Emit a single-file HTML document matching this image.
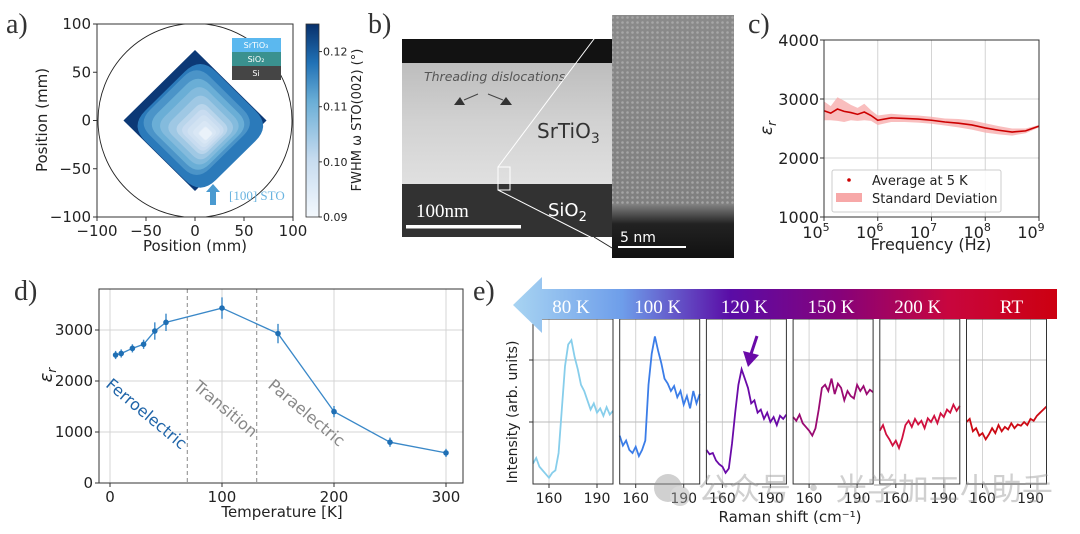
<!DOCTYPE html>
<html><head><meta charset="utf-8"><style>
html,body{margin:0;padding:0;background:#fff;}
svg{display:block;font-family:"DejaVu Sans","Liberation Sans",sans-serif;}
.lbl{font-family:"Liberation Serif",serif;font-size:28px;fill:#333;}
</style></head><body>
<svg id="fig" width="1080" height="534" viewBox="0 0 1080 534" xmlns="http://www.w3.org/2000/svg">
<defs>
<linearGradient id="cbar" x1="0" y1="1" x2="0" y2="0">
<stop offset="0" stop-color="#f3f8fd"/><stop offset="0.3" stop-color="#c6dbef"/><stop offset="0.6" stop-color="#6aaed6"/><stop offset="0.8" stop-color="#2171b5"/><stop offset="1" stop-color="#08306b"/></linearGradient>
<linearGradient id="band" x1="0" y1="0" x2="1" y2="0">
<stop offset="0" stop-color="#a8d4f2"/><stop offset="0.2" stop-color="#6e9eea"/><stop offset="0.4" stop-color="#5a0ca6"/><stop offset="0.6" stop-color="#86027a"/><stop offset="0.8" stop-color="#c8063e"/><stop offset="1" stop-color="#cc0010"/></linearGradient>
<linearGradient id="sto" x1="0" y1="0" x2="0" y2="1"><stop offset="0" stop-color="#bdbdbd"/><stop offset="0.5" stop-color="#d2d2d2"/><stop offset="1" stop-color="#e0e0e0"/></linearGradient>
<linearGradient id="hr" x1="0" y1="0" x2="0" y2="1"><stop offset="0" stop-color="#8a8a8a"/><stop offset="0.78" stop-color="#808080"/><stop offset="0.86" stop-color="#222"/><stop offset="1" stop-color="#111"/></linearGradient>
<pattern id="dots" width="5" height="5" patternUnits="userSpaceOnUse"><circle cx="2.5" cy="2.5" r="1.3" fill="#b4b4b4"/></pattern>
<clipPath id="clipA"><rect x="97" y="24" width="196" height="193"/></clipPath>
</defs>

<text class="lbl" x="6" y="33">a)</text>
<text class="lbl" x="368" y="33">b)</text>
<text class="lbl" x="748" y="33">c)</text>
<text class="lbl" x="14" y="300">d)</text>
<text class="lbl" x="473" y="300">e)</text>

<g id="pa">
<g id="contours" clip-path="url(#clipA)"></g>
<circle cx="195" cy="120.5" r="97" fill="none" stroke="#222" stroke-width="0.9" clip-path="url(#clipA)"/>
<rect x="97" y="24" width="196" height="193" fill="none" stroke="#333" stroke-width="1"/>
<g font-size="8" fill="#fff" text-anchor="middle">
<rect x="232" y="38" width="49" height="14" fill="#5bb8ef"/><text x="256" y="48">SrTiO₃</text>
<rect x="232" y="52" width="49" height="14" fill="#3a918f"/><text x="256" y="62">SiO₂</text>
<rect x="232" y="66" width="49" height="14" fill="#454545"/><text x="256" y="76">Si</text>
</g>
<g>
<polygon points="213,184 220,192 216,192 216,205 210,205 210,192 206,192" fill="#4a9ad0"/>
<text x="229" y="200" font-family="Liberation Serif,serif" font-size="13" fill="#6ab4e0">[100] STO</text>
</g>
<g id="aticks" font-size="15" fill="#222"></g>
<text x="195" y="251" font-size="15" text-anchor="middle" fill="#222">Position (mm)</text>
<text transform="translate(47,120) rotate(-90)" font-size="15" text-anchor="middle" fill="#222">Position (mm)</text>
<rect x="306" y="24" width="13" height="193" fill="url(#cbar)" stroke="#333" stroke-width="0.8"/>
<g id="cbticks" font-size="11" fill="#222"></g>
<text transform="translate(361,120) rotate(-90)" font-size="13" text-anchor="middle" fill="#222">FWHM ω STO(002) (°)</text>
</g>

<g>
<rect x="402" y="39" width="210" height="24" fill="#121212"/>
<rect x="402" y="63" width="210" height="121" fill="url(#sto)"/>
<rect x="402" y="184" width="210" height="53" fill="#323232"/>
<text x="424" y="81" font-size="12.5" font-style="italic" fill="#555">Threading dislocations</text>
<polygon points="454,105 465,105 460,97" fill="#333"/><polygon points="500,105 512,105 506,97" fill="#333"/>
<line x1="478" y1="94" x2="464" y2="100" stroke="#444"/><line x1="488" y1="94" x2="503" y2="100" stroke="#444"/>
<text x="537" y="138" font-size="20" fill="#333">SrTiO<tspan font-size="14" dy="5">3</tspan></text>
<text x="548" y="216" font-size="18" fill="#fff">SiO<tspan font-size="13" dy="5">2</tspan></text>
<text x="416" y="217" font-family="Liberation Serif,serif" font-size="19" fill="#fff">100nm</text>
<rect x="406" y="225" width="115" height="3.5" fill="#fff"/>
<rect x="498" y="167" width="12" height="23" fill="none" stroke="#fff" stroke-width="1"/>
<rect x="612" y="15" width="122" height="243" fill="url(#hr)"/>
<rect x="612" y="15" width="122" height="190" fill="url(#dots)" opacity="0.7"/>
<line x1="498" y1="167" x2="612" y2="15" stroke="#fff" stroke-width="1"/>
<line x1="498" y1="190" x2="612" y2="248" stroke="#fff" stroke-width="1"/>
<line x1="594" y1="237" x2="612" y2="248" stroke="#222" stroke-width="1"/>
<text x="620" y="242" font-size="14" fill="#fff">5 nm</text>
<rect x="618" y="246" width="68" height="2" fill="#fff"/>
</g>

<g id="pc"></g>
<g id="pd"></g>
<g id="pe"></g>

<g opacity="0.45">
<circle cx="668" cy="488" r="14" fill="#999"/><circle cx="680" cy="496" r="10" fill="#aaa"/>
<text x="698" y="500" font-family="Noto Sans CJK SC,sans-serif" font-size="31" fill="#999">公众号 · 光学加工小助手</text>
</g>
</svg>
<script>
// ---------- Panel C data ----------
const freqExp = [5,5.125,5.25,5.375,5.5,5.625,5.75,5.875,6,6.25,6.5,6.75,7,7.25,7.5,7.75,8,8.25,8.5,8.75,9];
const epsMean = [2800,2760,2830,2790,2770,2740,2780,2720,2640,2680,2670,2660,2640,2610,2590,2560,2510,2470,2440,2460,2540];
const epsStd  = [160,120,200,180,130,110,140,90,80,70,60,60,60,60,70,80,80,70,60,40,20];
const cYTicks = [1000,2000,3000,4000];
const cXTicks = [5,6,7,8,9];
// ---------- Panel D data ----------
const temps = [5,10,20,30,40,50,100,150,200,250,300];
const epsT  = [2510,2540,2640,2720,2980,3150,3430,2930,1400,800,590];
const epsErr= [80,80,80,90,170,170,210,190,110,90,80];
const dYTicks = [0,1000,2000,3000];
const dXTicks = [0,100,200,300];
const phaseBounds = [69,131];
// ---------- Panel E data ----------
const ramanLabels = ["80 K","100 K","120 K","150 K","200 K","RT"];
const ramanColors = ["#87ceeb","#3b7de8","#6a0aa8","#9a0a72","#d0103f","#cc0a14"];
const ramanShift = [150,152,154,156,158,160,162,164,166,168,170,172,174,176,178,180,182,184,186,188,190,192,194,196,198,200];
const s80  = [0.33,0.42,0.28,0.22,0.16,0.1,0.18,0.22,0.5,1.2,1.9,2.25,2.32,2.05,1.85,1.6,1.5,1.35,1.2,1.3,1.15,1.22,1.1,1.24,1.12,1.18];
const s100 = [0.78,0.62,0.7,0.55,0.5,0.6,0.45,0.55,0.7,1.6,2.1,2.38,2.15,1.95,1.7,1.62,1.5,1.58,1.4,1.5,1.28,1.42,1.22,1.5,1.3,1.45];
const s120 = [0.55,0.48,0.5,0.38,0.32,0.28,0.18,0.25,0.65,1.15,1.6,1.85,1.7,1.55,1.3,1.35,1.15,1.2,1.05,1.15,1.0,1.08,0.95,1.1,1.05,1.12];
const s150 = [1.08,1.02,1.12,0.98,0.92,0.86,0.78,0.9,1.2,1.55,1.6,1.5,1.7,1.45,1.62,1.55,1.35,1.5,1.42,1.38,1.6,1.5,1.58,1.45,1.52,1.48];
const s200 = [0.86,0.95,0.8,0.72,0.62,0.7,0.58,0.74,0.95,1.02,0.92,1.05,0.96,1.02,0.9,1.06,1.0,1.1,0.98,1.14,1.08,1.2,1.15,1.28,1.18,1.26];
const sRT  = [1.0,1.05,0.85,0.9,0.78,0.82,0.72,0.8,0.9,0.82,0.95,0.85,0.92,0.88,0.98,0.9,0.96,0.94,1.0,0.95,1.05,1.02,1.1,1.15,1.2,1.25];
const ramanSeries = [s80,s100,s120,s150,s200,sRT];
const eXTicks = [160,190];
// ---------- Panel A data ----------
const cbTicks = [0.09,0.10,0.11,0.12];
const aTicks = [-100,-50,0,50,100];
const contourLevels = [0.117,0.114,0.111,0.108,0.105,0.102,0.100,0.098,0.096,0.094,0.093,0.092];

const NS="http://www.w3.org/2000/svg";
function mk(tag,attrs,parent,txt){const e=document.createElementNS(NS,tag);for(const k in attrs)e.setAttribute(k,attrs[k]);if(txt!==undefined)e.textContent=txt;parent.appendChild(e);return e;}

// ===== Panel A =====
(function(){
  const ax=v=>195+v*0.98, ay=v=>120.5-v*0.965;
  const cbY=v=>217-(v-0.09)*5514;
  const g=document.getElementById('contours');
  const cmap=v=>{const t=Math.min(1,(v-0.09)/0.035);const c0=[243,248,253],c1=[198,219,239],c2=[106,174,214],c3=[33,113,181],c4=[8,48,107];
    const st=[[0,c0],[0.3,c1],[0.6,c2],[0.8,c3],[1,c4]];
    for(let i=1;i<st.length;i++){if(t<=st[i][0]){const f=(t-st[i-1][0])/(st[i][0]-st[i-1][0]);const a=st[i-1][1],b=st[i][1];return `rgb(${a.map((x,j)=>Math.round(x+(b[j]-x)*f)).join(',')})`;}}return 'rgb(8,48,107)';};
  // outer diamond with dark corners
  const outer=mk('path',{d:'M'+ax(0)+','+ay(73)+' L'+ax(73)+','+ay(0)+' L'+ax(0)+','+ay(-73)+' L'+ax(-73)+','+ay(0)+' Z',fill:cmap(0.124)},g);
  
  
  contourLevels.forEach((lv,i)=>{
    const f=(lv-0.091)/0.027;
    const s=Math.max(0.1,Math.min(1,f));
    const cx=12*(1-s)+ (i===0?5:0), cy=-15*(1-s)-(i===0?5:0);
    const r=(i===0?72:73*s*0.98);
    const pts=[[cx,cy+r],[cx+r,cy],[cx,cy-r],[cx-r,cy]];
    const P=pts.map(p=>[ax(p[0]),ay(p[1])]);
    const t=0.22;
    let d='';
    for(let k=0;k<4;k++){const a=P[(k+3)%4],b=P[k],c=P[(k+1)%4];
      const p1=[b[0]+(a[0]-b[0])*t,b[1]+(a[1]-b[1])*t],p2=[b[0]+(c[0]-b[0])*t,b[1]+(c[1]-b[1])*t];
      d+=(k===0?'M':'L')+p1[0]+','+p1[1]+' Q'+b[0]+','+b[1]+' '+p2[0]+','+p2[1]+' ';}
    d+='Z';
    const p=mk('path',{d:d,fill:cmap(lv)},g);
    
    
  });
  const at=document.getElementById('aticks');
  aTicks.forEach(v=>{
    mk('line',{x1:ax(v),x2:ax(v),y1:217,y2:221,stroke:'#333'},at);
    const t=mk('text',{x:ax(v),y:236,'text-anchor':'middle'},at,v<0?'−'+(-v):''+v);
    
    mk('line',{x1:93,x2:97,y1:ay(v),y2:ay(v),stroke:'#333'},at);
    const t2=mk('text',{x:91,y:ay(v)+5,'text-anchor':'end'},at,v<0?'−'+(-v):''+v);
    
  });
  const cb=document.getElementById('cbticks');
  cbTicks.forEach(v=>{
    mk('line',{x1:319,x2:322,y1:cbY(v),y2:cbY(v),stroke:'#333'},cb);
    const t=mk('text',{x:323,y:cbY(v)+4},cb,v.toFixed(2));
    
  });
})();

// ===== Panel C =====
(function(){
  const g=document.getElementById('pc');
  const L=824,R=1039,T=40,B=217;
  const x=v=>L+(v-5)/4*(R-L), y=v=>B-(v-1000)/3000*(B-T);
  cXTicks.forEach(v=>{mk('line',{x1:x(v),x2:x(v),y1:T,y2:B,stroke:'#d4d4d4'},g);
    mk('line',{x1:x(v),x2:x(v),y1:B,y2:B+4,stroke:'#333'},g);
    const t=mk('text',{x:x(v)-8,y:B+21,'font-size':16,'text-anchor':'middle',fill:'#222'},g,'10');
    mk('tspan',{'font-size':11,dy:-7},t,''+v);
    });
  cYTicks.forEach(v=>{mk('line',{x1:L,x2:R,y1:y(v),y2:y(v),stroke:'#d4d4d4'},g);
    mk('line',{x1:L-4,x2:L,y1:y(v),y2:y(v),stroke:'#333'},g);
    const t=mk('text',{x:L-5,y:y(v)+6,'font-size':16,'text-anchor':'end',fill:'#222'},g,''+v);
    });
  let up='',dn='',ln='';
  freqExp.forEach((f,i)=>{up+=(i?'L':'M')+x(f)+','+y(epsMean[i]+epsStd[i]);ln+=(i?'L':'M')+x(f)+','+y(epsMean[i]);});
  for(let i=freqExp.length-1;i>=0;i--)dn+='L'+x(freqExp[i])+','+y(epsMean[i]-epsStd[i]);
  const band=mk('path',{d:up+dn+'Z',fill:'#f7a8a8',opacity:0.75},g);
  
  const line=mk('path',{d:ln,fill:'none',stroke:'#cc0000','stroke-width':1.6},g);
  
  mk('rect',{x:L,y:T,width:R-L,height:B-T,fill:'none',stroke:'#333'},g);
  const t=mk('text',{transform:'translate(772,128) rotate(-90)','font-size':17,'text-anchor':'middle',fill:'#222','font-style':'italic'},g,'ε');
  mk('tspan',{'font-size':12,dy:4},t,'r');
  
  const xt=mk('text',{x:931,y:250,'font-size':16,'text-anchor':'middle',fill:'#222'},g,'Frequency (Hz)');
  
  const lg=mk('g',{},g);
  mk('rect',{x:832,y:170,width:169,height:42,fill:'#fff','fill-opacity':0.85,stroke:'#ccc',rx:2},lg);
  mk('circle',{cx:849,cy:180,r:1.8,fill:'#cc0000'},lg);
  mk('text',{x:872,y:185,'font-size':13,fill:'#222'},lg,'Average at 5 K');
  mk('rect',{x:836,y:193,width:26,height:9,fill:'#f7a8a8'},lg);
  mk('text',{x:872,y:203,'font-size':13,fill:'#222'},lg,'Standard Deviation');
})();

// ===== Panel D =====
(function(){
  const g=document.getElementById('pd');
  const L=99,R=463,T=289,B=483;
  const x=v=>110+v*(336/300), y=v=>B-v*0.051;
  dXTicks.forEach(v=>{mk('line',{x1:x(v),x2:x(v),y1:T,y2:B,stroke:'#d4d4d4'},g);
    mk('line',{x1:x(v),x2:x(v),y1:B,y2:B+4,stroke:'#333'},g);
    const t=mk('text',{x:x(v),y:B+19,'font-size':15,'text-anchor':'middle',fill:'#222'},g,''+v);
    });
  dYTicks.forEach(v=>{mk('line',{x1:L,x2:R,y1:y(v),y2:y(v),stroke:'#d4d4d4'},g);
    mk('line',{x1:L-4,x2:L,y1:y(v),y2:y(v),stroke:'#333'},g);
    const t=mk('text',{x:L-6,y:y(v)+5,'font-size':15,'text-anchor':'end',fill:'#222'},g,''+v);
    });
  phaseBounds.forEach(v=>{const l=mk('line',{x1:x(v),x2:x(v),y1:T,y2:B,stroke:'#888','stroke-dasharray':'4,3'},g);
    });
  let d='';temps.forEach((t,i)=>d+=(i?'L':'M')+x(t)+','+y(epsT[i]));
  const ln=mk('path',{d:d,fill:'none',stroke:'#3a88c8','stroke-width':1.3},g);
  
  temps.forEach((t,i)=>{
    const eb=mk('line',{x1:x(t),x2:x(t),y1:y(epsT[i]+epsErr[i]),y2:y(epsT[i]-epsErr[i]),stroke:'#3a88c8','stroke-width':1.4},g);
    
    const c=mk('circle',{cx:x(t),cy:y(epsT[i]),r:2.8,fill:'#1f6fb4'},g);
    
  });
  mk('rect',{x:L,y:T,width:R-L,height:B-T,fill:'none',stroke:'#333'},g);
  const ph=[['Ferroelectric',143,418,'#1f64a8'],['Transition',222,413,'#888'],['Paraelectric',303,417,'#888']];
  ph.forEach(p=>{const t=mk('text',{transform:`translate(${p[1]},${p[2]}) rotate(40)`,'font-size':16,'text-anchor':'middle',fill:p[3]},g,p[0]);
    });
  const yt=mk('text',{transform:'translate(52,375) rotate(-90)','font-size':18,'text-anchor':'middle',fill:'#222','font-style':'italic'},g,'ε');
  mk('tspan',{'font-size':12,dy:4},yt,'r');
  
  const xt=mk('text',{x:282,y:517,'font-size':15,'text-anchor':'middle',fill:'#222'},g,'Temperature [K]');
  
})();

// ===== Panel E =====
(function(){
  const g=document.getElementById('pe');
  const T=319,B=484,W=80,step=86.7,L0=533;
  const y=v=>B-v*62;
  ramanSeries.forEach((s,k)=>{
    const L=L0+k*step;
    const x=v=>L+(v-150)*1.6;
    const sg=mk('g',{},g);
    eXTicks.forEach(v=>{mk('line',{x1:x(v),x2:x(v),y1:T,y2:B,stroke:'#d4d4d4'},sg);
      mk('line',{x1:x(v),x2:x(v),y1:B,y2:B+4,stroke:'#333'},sg);
      const t=mk('text',{x:x(v),y:B+19,'font-size':14,'text-anchor':'middle',fill:'#222'},sg,''+v);
      });
    [1,2].forEach(v=>mk('line',{x1:L,x2:L+W,y1:y(v),y2:y(v),stroke:'#bbb'},sg));
    let d='';ramanShift.forEach((r,i)=>d+=(i?'L':'M')+x(r)+','+y(s[i]));
    const p=mk('path',{d:d,fill:'none',stroke:ramanColors[k],'stroke-width':1.8},sg);
    
    mk('rect',{x:L,y:T,width:W,height:B-T,fill:'none',stroke:'#333'},sg);
  });
  [1,2].forEach(v=>mk('line',{x1:529,x2:533,y1:y(v),y2:y(v),stroke:'#333'},g));
  const ar=mk('g',{},g);
  mk('polygon',{points:'513,305 542,277 542,289 1057,289 1057,319 542,319 542,333',fill:'url(#band)'},ar);
  ramanLabels.forEach((lb,k)=>{
    const t=mk('text',{x:L0+k*step+(k===5?45:38),y:313,'font-size':19,'text-anchor':'middle',fill:'#fff','font-family':'Liberation Serif,serif'},ar,lb);
    
  });
  const pa=mk('g',{},g);
  mk('line',{x1:757,y1:336,x2:751,y2:354,stroke:'#6a0aa8','stroke-width':3},pa);
  mk('polygon',{points:'743,351 759,355 748,367',fill:'#6a0aa8'},pa);
  const yt=mk('text',{transform:'translate(517,412) rotate(-90)','font-size':14,'text-anchor':'middle',fill:'#222'},g,'Intensity (arb. units)');
  
  const xt=mk('text',{x:790,y:522,'font-size':15,'text-anchor':'middle',fill:'#222'},g,'Raman shift (cm⁻¹)');
  
})();
</script>
</body></html>
